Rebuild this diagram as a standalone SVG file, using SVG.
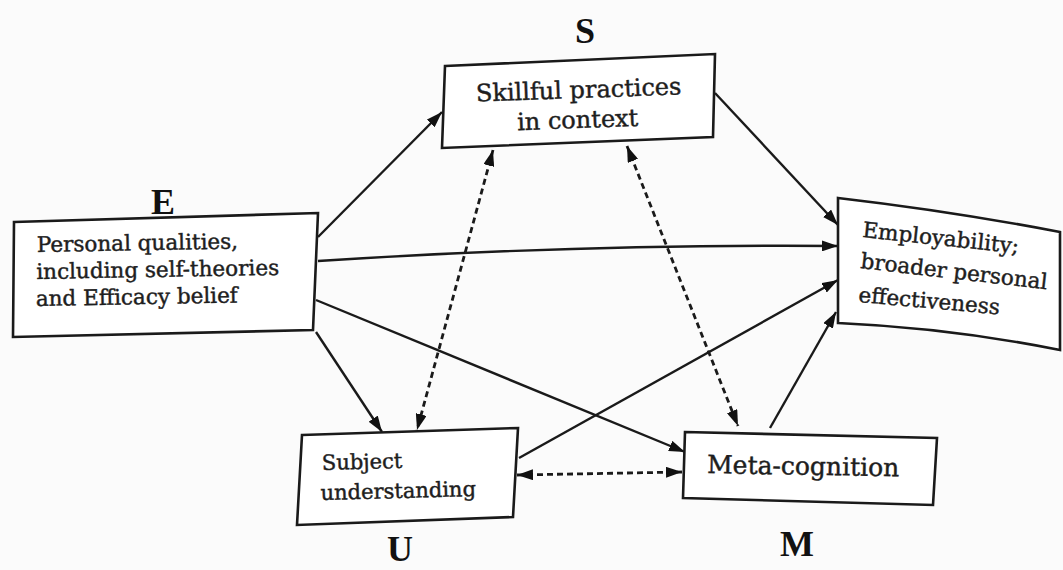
<svg xmlns="http://www.w3.org/2000/svg" width="1063" height="570" viewBox="0 0 1063 570">
<style>
.box{fill:#ffffff;stroke:#1a1a1a;stroke-width:2.6;stroke-linejoin:miter}
.t{font-family:"DejaVu Serif","Liberation Serif",serif;fill:#1e1e1e;stroke:#1e1e1e;stroke-width:0.45}
.lab{font-family:"Liberation Serif","Times New Roman",serif;font-weight:bold;fill:#111;font-size:36px;text-anchor:middle}
.ln{fill:none;stroke:#1a1a1a;stroke-width:2.4}
.dash{fill:none;stroke:#1a1a1a;stroke-width:2.8;stroke-dasharray:6 4}
</style>
<defs>
<marker id="ah" viewBox="0 0 16 11" refX="16" refY="5.5" markerWidth="16" markerHeight="11" markerUnits="userSpaceOnUse" orient="auto-start-reverse">
<path d="M0,0 L16,5.5 L0,11 z" fill="#111"/>
</marker>
</defs>
<rect width="1063" height="570" fill="#fbfbfb"/>

<g id="connectors">
<path class="ln" d="M318,237 L442,112" marker-end="url(#ah)"/>
<path class="ln" d="M318,261 Q580,244 838,246" marker-end="url(#ah)"/>
<path class="ln" d="M316,300 L685,452" marker-end="url(#ah)"/>
<path class="ln" d="M316,332 L382,432" marker-end="url(#ah)"/>
<path class="ln" d="M519,458 L838,280" marker-end="url(#ah)"/>
<path class="ln" d="M770,428 L836,312" marker-end="url(#ah)"/>
<path class="ln" d="M715,93 L838,225" marker-end="url(#ah)"/>
<path class="dash" d="M493,150 L417,430" marker-start="url(#ah)" marker-end="url(#ah)"/>
<path class="dash" d="M627,146 L738,426" marker-start="url(#ah)" marker-end="url(#ah)"/>
<path class="dash" d="M517,475 L682,472" marker-start="url(#ah)" marker-end="url(#ah)"/>
</g>

<g id="node-E">
<polygon class="box" points="14,222 318,213 313,330 13,337"/>
<text class="t" font-size="21.5" transform="rotate(-1 37 252)"><tspan x="37" y="252">Personal qualities,</tspan><tspan x="36" y="279">including self-theories</tspan><tspan x="35" y="306">and Efficacy belief</tspan></text>
<text class="lab" x="163" y="214">E</text>
</g>

<g id="node-S">
<polygon class="box" points="445,66 715,54 713,137 442,148"/>
<text class="t" font-size="24" text-anchor="middle" transform="rotate(-2 579 100)"><tspan x="579" y="98">Skillful practices</tspan><tspan x="577" y="128">in context</tspan></text>
<text class="lab" x="585" y="43">S</text>
</g>

<g id="node-Emp">
<path class="box" d="M838,198 Q950,211 1060,232 L1060,350 Q950,328 838,323 Z"/>
<text class="t" font-size="21.5" transform="rotate(6 862 237)" x="862" y="237">Employability;</text>
<text class="t" font-size="21.5" transform="rotate(6.5 860 268)" x="860" y="268">broader personal</text>
<text class="t" font-size="21.5" transform="rotate(5 858 302)" x="858" y="302">effectiveness</text>
</g>

<g id="node-U">
<polygon class="box" points="302,435 518,428 513,517 297,525"/>
<text class="t" font-size="21" transform="rotate(-1.5 322 470)"><tspan x="322" y="470">Subject</tspan><tspan x="320" y="500">understanding</tspan></text>
<text class="lab" x="400" y="561">U</text>
</g>

<g id="node-M">
<polygon class="box" points="685,432 937,438 933,505 683,498"/>
<text class="t" font-size="25" transform="rotate(1 707 473)" x="707" y="473">Meta-cognition</text>
<text class="lab" x="797" y="556">M</text>
</g>
</svg>
